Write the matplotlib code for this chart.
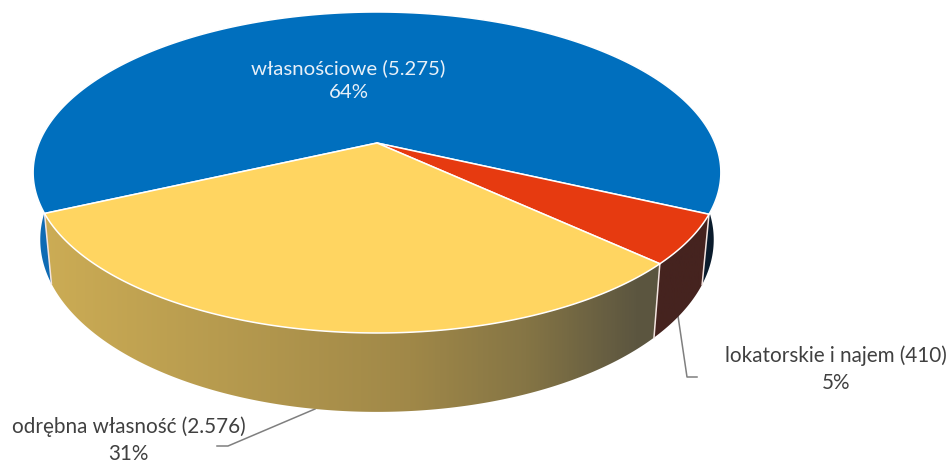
import numpy as np
import matplotlib
matplotlib.use('Agg')
import matplotlib.pyplot as plt
from matplotlib.colors import LinearSegmentedColormap
from matplotlib.patches import Polygon

plt.rcParams['font.family'] = ['Lato', 'DejaVu Sans']

names = ['własnościowe', 'lokatorskie i najem', 'odrębna własność']
values = [5275, 410, 2576]
top_colors = ['#006FBE', '#E63A10', '#FFD561']
# side wall colours, left to right
side_colors = [[(0, '#0F6CB5'), (0.5, '#0B5C9E'), (1, '#0A1A2A')],
               [(0, '#45231F'), (1, '#45231F')],
               [(0, '#CDAD55'), (0.55, '#A08848'), (0.72, '#857545'), (0.88, '#5C5640'), (1, '#57523F')]]

start_angle = 204.8
apex_x = 377
persp = 0.1838

# perspective projection of the unit disc, top and bottom face of the pie
def project(t, radius, y_scale, y_shift):
    x, y = np.cos(t), np.sin(t)
    w = 1 + persp * y
    return apex_x + radius * x / w, (y_scale * y + y_shift) / w

def top_face(t):
    return project(t, 338, -128.6, 144)

def bottom_face(t):
    return project(t, 331, -128, 209)

total = sum(values)
fractions = np.array(values) / total
edges = start_angle - 360 * np.concatenate([[0], np.cumsum(fractions)])

fig = plt.figure(figsize=(9.52, 4.64), dpi=100)
ax = fig.add_axes([0, 0, 1, 1])

# walls first, the faces go over them
for i in [0, 1, 2]:
    t = np.radians(np.linspace(edges[i], edges[i + 1], 300))
    tx, ty = top_face(t)
    bx, by = bottom_face(t)
    pts = np.column_stack([np.r_[tx, bx[::-1]], np.r_[ty, by[::-1]]])
    wall = Polygon(pts, closed=True, facecolor='none', edgecolor='none', transform=ax.transData)
    ax.add_patch(wall)
    cmap = LinearSegmentedColormap.from_list('wall%d' % i, side_colors[i])
    im = ax.imshow(np.linspace(0, 1, 400).reshape(1, -1), cmap=cmap, aspect='auto',
                   extent=[33, 720, 420, 10], zorder=2)
    im.set_clip_path(wall)

# white seams between the walls
for angle in edges[1:]:
    t = np.radians(angle)
    tx, ty = top_face(t)
    bx, by = bottom_face(t)
    ax.plot([tx, bx], [ty, by], color='#F3E4E0', lw=1.1, zorder=3)

for i in range(3):
    t = np.radians(np.linspace(edges[i], edges[i + 1], 300))
    tx, ty = top_face(t)
    pts = np.column_stack([np.r_[apex_x, tx], np.r_[144, ty]])
    ax.add_patch(Polygon(pts, closed=True, facecolor=top_colors[i], edgecolor='white',
                         lw=1.1, joinstyle='round', zorder=4))

# leader lines
ax.plot([217, 228, 315], [447, 447, 410], color='#7F7F7F', lw=1.1, zorder=1)
ax.plot([678, 687, 697], [317, 378, 378], color='#7F7F7F', lw=1.1, zorder=1)

def label(i):
    pct = round(values[i] / total * 100)
    return '%s (%s)\n%d%%' % (names[i], format(values[i], ',').replace(',', '.'), pct)

ax.text(348.5, 80, label(0), color='#E8F0F8', ha='center', va='center', fontsize=14.7, linespacing=1.45, zorder=5)
ax.text(836, 369, label(1), color='#404040', ha='center', va='center', fontsize=14.9, linespacing=1.45)
ax.text(128.5, 440, label(2), color='#404040', ha='center', va='center', fontsize=14.9, linespacing=1.45)

ax.set_xlim(0, 952)
ax.set_ylim(464, 0)
ax.axis('off')
fig.savefig('out.png', dpi=100)
